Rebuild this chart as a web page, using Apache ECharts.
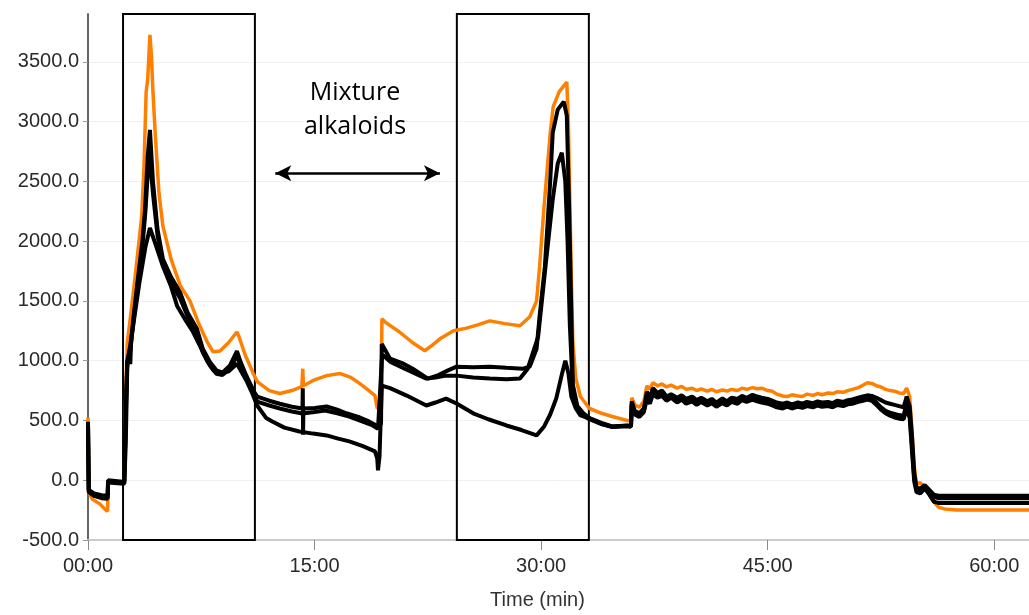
<!DOCTYPE html>
<html>
<head>
<meta charset="utf-8">
<script src="https://cdn.jsdelivr.net/npm/echarts@6/dist/echarts.min.js"></script>
<style>
  html, body { margin: 0; padding: 0; background: #fff; }
  #chart { width: 1029px; height: 615px; }
</style>
</head>
<body>
<div id="chart"></div>
<script>
// time in minutes, signal value
var orangeTrace = [
  [0, 525], [0.05, -100], [0.3, -160], [0.8, -200], [1.1, -240], [1.3, -260], [1.33, -10], [2.4, -10], [2.45, 0],
  [2.5, 740], [2.6, 1150], [2.75, 1300], [3.1, 1680], [3.55, 2200], [3.7, 2600], [3.85, 3250], [3.95, 3350], [4.1, 3725],
  [4.2, 3550], [4.3, 3250], [4.45, 2900], [4.7, 2400], [4.96, 2125], [5.5, 1850], [6.1, 1630], [6.75, 1500], [7.3, 1320],
  [7.88, 1160], [8.27, 1075], [8.74, 1080], [9.3, 1150], [9.86, 1240], [10.0, 1200], [10.4, 1050], [10.92, 900], [11.2, 825],
  [12.0, 750], [12.7, 725], [13.5, 750], [14.16, 783], [14.22, 933], [14.26, 790], [15.0, 840], [15.8, 875], [16.7, 892],
  [17.4, 860], [18.0, 808], [18.6, 750], [19.0, 708], [19.15, 600], [19.4, 620], [19.46, 1350], [19.7, 1320], [20.6, 1242],
  [21.5, 1150], [22.3, 1083], [22.8, 1130], [23.3, 1183], [24.2, 1250], [25.0, 1270], [25.8, 1300], [26.6, 1333],
  [27.6, 1310], [28.6, 1292], [29.25, 1367], [29.7, 1500], [29.9, 1790], [30.2, 2300], [30.6, 2900], [30.8, 3125],
  [31.2, 3250], [31.7, 3330], [31.8, 3000], [32.0, 1700], [32.1, 1150], [32.3, 850], [32.6, 700], [33.2, 600],
  [34.0, 560], [34.7, 533], [35.7, 500], [35.95, 495],
  [36.0, 690], [36.2, 630], [36.5, 610], [36.8, 660], [37.0, 790], [37.2, 760], [37.4, 815], [37.7, 790], [38.0, 805],
  [38.3, 780], [38.6, 795], [39.0, 770], [39.3, 785], [39.6, 760], [40.0, 770], [40.3, 750], [40.6, 765], [41.0, 745],
  [41.3, 760], [41.6, 740], [42.0, 755], [42.3, 745], [42.6, 760], [43.0, 750], [43.3, 770], [43.6, 760], [44.0, 775],
  [44.3, 765], [44.6, 770], [45.0, 750], [45.3, 745], [45.6, 720], [46.0, 705], [46.3, 700], [46.6, 715], [47.0, 705],
  [47.3, 700], [47.6, 720], [48.0, 710], [48.3, 725], [48.6, 715], [49.0, 730], [49.3, 725], [49.6, 740], [50.0, 735],
  [50.3, 750], [50.6, 760], [51.0, 775], [51.3, 795], [51.6, 815], [51.9, 810], [52.2, 790], [52.5, 780], [52.8, 760],
  [53.1, 750], [53.4, 745], [53.7, 730], [54.0, 725], [54.2, 770], [54.4, 700], [54.55, 420], [54.7, 120], [54.85, -30],
  [55.1, -20], [55.4, -60], [55.7, -90], [56.0, -180], [56.3, -225], [56.7, -240], [57.5, -250], [62.3, -250]
];

var blackTraceA = [
  [0, 490], [0.05, -80], [0.4, -110], [0.9, -125], [1.3, -130], [1.33, 0], [2.4, -15],
  [2.5, 600], [2.6, 1000], [2.78, 1100], [2.8, 970], [2.85, 1150], [3.0, 1350], [3.3, 1683], [3.6, 2000], [3.77, 2250],
  [3.95, 2700], [4.1, 2930], [4.3, 2500], [4.6, 2100], [4.96, 1850], [5.5, 1700], [6.1, 1570], [6.6, 1400], [7.2, 1270],
  [7.6, 1100], [8.07, 990], [8.5, 920], [8.9, 900], [9.4, 960], [9.86, 1080], [10.1, 990], [10.5, 870], [11.0, 740],
  [11.2, 700], [12.0, 665], [12.7, 640], [13.5, 615], [14.2, 600], [14.22, 770], [14.24, 380], [14.26, 600], [15.0, 605],
  [15.8, 617], [16.5, 590], [17.1, 560], [18.0, 525], [18.6, 492], [19.1, 458], [19.4, 470], [19.45, 1140], [20.0, 1017],
  [20.8, 980], [21.5, 933], [22.5, 850], [23.2, 880], [23.8, 917], [24.4, 950], [25.5, 945], [26.6, 950], [27.7, 940],
  [28.8, 933], [29.25, 950], [29.7, 1100], [29.9, 1375], [30.25, 1790], [30.6, 2500], [30.77, 2908], [31.1, 3100],
  [31.5, 3167], [31.7, 3050], [31.85, 2300], [32.0, 1400], [32.1, 800], [32.4, 620], [32.8, 560], [33.2, 520],
  [34.0, 480], [34.7, 450], [35.7, 458], [35.95, 455],
  [36.0, 660], [36.2, 580], [36.5, 560], [36.8, 600], [37.0, 740], [37.2, 690], [37.4, 770], [37.7, 730], [38.0, 750],
  [38.3, 700], [38.6, 720], [39.0, 690], [39.3, 710], [39.6, 680], [40.0, 700], [40.3, 670], [40.6, 690], [41.0, 660],
  [41.3, 680], [41.6, 650], [42.0, 685], [42.3, 660], [42.6, 690], [43.0, 680], [43.3, 705], [43.6, 690], [44.0, 715],
  [44.3, 700], [44.6, 690], [45.0, 680], [45.3, 665], [45.6, 650], [46.0, 640], [46.3, 650], [46.6, 635], [47.0, 650],
  [47.3, 640], [47.6, 655], [48.0, 645], [48.3, 660], [48.6, 650], [49.0, 655], [49.3, 645], [49.6, 665], [50.0, 655],
  [50.3, 670], [50.6, 675], [51.0, 690], [51.3, 700], [51.6, 710], [51.9, 705], [52.2, 690], [52.5, 670], [52.8, 650],
  [53.1, 640], [53.4, 630], [53.7, 620], [54.0, 610], [54.2, 700], [54.4, 620], [54.55, 380], [54.7, 60], [54.85, -60],
  [55.1, -70], [55.4, -40], [55.7, -80], [56.0, -120], [56.3, -130], [62.3, -130]
];

var blackTraceB = [
  [0, 480], [0.05, -90], [0.4, -120], [0.9, -135], [1.3, -140], [1.33, -10], [2.4, -20],
  [2.5, 550], [2.6, 980], [2.8, 1080], [3.0, 1320], [3.3, 1650], [3.6, 1950], [3.8, 2250], [3.95, 2550], [4.1, 2700],
  [4.3, 2400], [4.6, 2050], [4.96, 1800], [5.5, 1650], [6.1, 1520], [6.6, 1370], [7.2, 1230], [7.6, 1070], [8.07, 960],
  [8.5, 890], [8.9, 880], [9.4, 930], [9.86, 1040], [10.1, 960], [10.5, 850], [11.0, 720], [11.2, 658], [12.0, 625],
  [12.7, 600], [13.5, 575], [14.2, 558], [15.0, 570], [15.7, 583], [16.5, 560], [17.3, 533], [18.1, 495], [18.85, 458],
  [19.2, 430], [19.45, 1000], [19.5, 1050], [20.0, 992], [21.0, 930], [22.4, 850], [23.0, 860], [23.7, 875], [24.4, 875],
  [25.5, 860], [26.6, 850], [27.7, 845], [28.6, 850], [29.1, 930], [29.8, 1200], [30.3, 1800], [30.77, 2350],
  [31.1, 2650], [31.37, 2740], [31.6, 2500], [31.75, 2000], [31.9, 1300], [32.1, 750], [32.4, 600], [32.8, 540],
  [33.2, 510], [34.0, 470], [34.7, 445], [35.7, 452], [35.95, 450],
  [36.0, 640], [36.2, 560], [36.5, 540], [36.8, 580], [37.0, 700], [37.2, 660], [37.4, 740], [37.7, 700], [38.0, 720],
  [38.3, 680], [38.6, 700], [39.0, 665], [39.3, 690], [39.6, 655], [40.0, 675], [40.3, 645], [40.6, 670], [41.0, 640],
  [41.3, 660], [41.6, 630], [42.0, 660], [42.3, 640], [42.6, 670], [43.0, 655], [43.3, 685], [43.6, 670], [44.0, 690],
  [44.3, 675], [44.6, 665], [45.0, 655], [45.3, 640], [45.6, 625], [46.0, 615], [46.3, 630], [46.6, 615], [47.0, 630],
  [47.3, 620], [47.6, 635], [48.0, 625], [48.3, 640], [48.6, 630], [49.0, 635], [49.3, 625], [49.6, 645], [50.0, 635],
  [50.3, 650], [50.6, 655], [51.0, 670], [51.3, 680], [51.6, 690], [51.9, 680], [52.2, 650], [52.5, 610], [52.8, 580],
  [53.1, 565], [53.4, 555], [53.7, 545], [54.0, 540], [54.2, 650], [54.4, 560], [54.55, 300], [54.7, 20], [54.85, -80],
  [55.1, -90], [55.4, -50], [55.7, -100], [56.0, -140], [56.3, -150], [62.3, -150]
];

var blackTraceC = [
  [0, 470], [0.05, -100], [0.4, -130], [0.9, -150], [1.3, -155], [1.33, -20], [2.4, -30],
  [2.5, 300], [2.6, 950], [2.7, 1050], [3.0, 1300], [3.4, 1650], [3.8, 1950], [4.1, 2110], [4.4, 2000], [4.96, 1790],
  [5.5, 1620], [5.9, 1458], [6.5, 1330], [6.95, 1242], [7.5, 1100], [7.88, 1000], [8.3, 920], [8.74, 900], [9.3, 910],
  [9.86, 975], [10.1, 920], [10.5, 830], [10.9, 720], [11.2, 625], [11.8, 520], [12.2, 492], [13.0, 440], [14.0, 408],
  [14.9, 390], [15.8, 375], [16.5, 350], [17.3, 325], [18.2, 285], [19.0, 242], [19.15, 180], [19.2, 83], [19.3, 200],
  [19.45, 792], [20.0, 770], [21.1, 708], [22.4, 625], [23.0, 650], [23.7, 683], [24.4, 642], [25.5, 560], [26.5, 510],
  [27.7, 458], [28.7, 420], [29.7, 375], [30.2, 450], [30.6, 550], [31.0, 683], [31.4, 900], [31.6, 1000], [31.8, 900],
  [32.0, 700], [32.3, 600], [32.6, 542], [33.2, 517], [34.0, 470], [34.7, 450], [35.7, 455], [35.95, 450],
  [36.0, 630], [36.2, 550], [36.5, 530], [36.8, 570], [37.0, 680], [37.2, 640], [37.4, 720], [37.7, 690], [38.0, 705],
  [38.3, 665], [38.6, 690], [39.0, 650], [39.3, 675], [39.6, 640], [40.0, 660], [40.3, 630], [40.6, 655], [41.0, 625],
  [41.3, 645], [41.6, 615], [42.0, 645], [42.3, 625], [42.6, 655], [43.0, 640], [43.3, 670], [43.6, 655], [44.0, 675],
  [44.3, 660], [44.6, 650], [45.0, 640], [45.3, 625], [45.6, 610], [46.0, 600], [46.3, 615], [46.6, 600], [47.0, 615],
  [47.3, 605], [47.6, 620], [48.0, 610], [48.3, 625], [48.6, 615], [49.0, 620], [49.3, 610], [49.6, 630], [50.0, 620],
  [50.3, 635], [50.6, 640], [51.0, 655], [51.3, 665], [51.6, 675], [51.9, 665], [52.2, 630], [52.5, 590], [52.8, 560],
  [53.1, 540], [53.4, 525], [53.7, 515], [54.0, 510], [54.2, 600], [54.4, 520], [54.55, 250], [54.7, -10], [54.85, -100],
  [55.1, -110], [55.4, -70], [55.7, -120], [56.0, -180], [56.3, -190], [62.3, -190]
];

// boxed regions [start min, end min] and the double arrow span
var boxRanges = [[2.32, 11.05], [24.42, 33.16]];
var arrowSpan = [12.4, 23.3];
var arrowLevel = 2567;
var yMin = -500, yMax = 3900;

var chart = echarts.init(document.getElementById('chart'));

function lineSeries(name, data, color, width) {
  return {
    name: name,
    type: 'line',
    data: data,
    showSymbol: false,
    symbol: 'none',
    lineStyle: { color: color, width: width },
    itemStyle: { color: color }
  };
}

var seriesList = [
  lineSeries('orange', orangeTrace, '#ff7f00', 3.5),
  lineSeries('A', blackTraceA, '#000', 4),
  lineSeries('B', blackTraceB, '#000', 4),
  lineSeries('C', blackTraceC, '#000', 4)
];

seriesList[0].markArea = {
  silent: true,
  itemStyle: { color: 'rgba(0,0,0,0)', borderColor: '#000', borderWidth: 2 },
  data: boxRanges.map(function (r) {
    return [{ coord: [r[0], yMin] }, { coord: [r[1], yMax] }];
  })
};
seriesList[0].markLine = {
  silent: true,
  symbol: ['arrow', 'arrow'],
  symbolSize: [12, 16],
  label: { show: false },
  lineStyle: { color: '#000', width: 2.5, type: 'solid' },
  data: [[{ coord: [arrowSpan[0], arrowLevel] }, { coord: [arrowSpan[1], arrowLevel] }]]
};

var option = {
  backgroundColor: '#ffffff',
  animation: false,
  grid: { left: 88, right: 0, top: 14, bottom: 73, containLabel: false },
  xAxis: {
    type: 'value',
    min: 0,
    max: 62.3,
    interval: 15,
    name: 'Time (min)',
    nameLocation: 'middle',
    nameGap: 50,
    nameTextStyle: { fontFamily: 'Liberation Sans', fontSize: 20, color: '#333', padding: [0, 42, 0, 0] },
    axisLine: { onZero: false, lineStyle: { color: '#cccccc', width: 2 } },
    axisTick: { length: 10, lineStyle: { color: '#888' } },
    axisLabel: {
      showMaxLabel: false,
      margin: 16,
      fontFamily: 'Liberation Sans',
      fontSize: 20,
      color: '#2a2a2a',
      formatter: function (v) { return (v < 10 ? '0' : '') + v + ':00'; }
    },
    splitLine: { show: false }
  },
  yAxis: {
    type: 'value',
    min: yMin,
    max: yMax,
    interval: 500,
    axisLine: { show: true, lineStyle: { color: '#666', width: 2 } },
    axisTick: { show: true, length: 5, lineStyle: { color: '#999' } },
    axisLabel: {
      showMaxLabel: false,
      margin: 9,
      fontFamily: 'Liberation Sans',
      fontSize: 20,
      color: '#2a2a2a',
      formatter: function (v) { return v.toFixed(1); }
    },
    splitLine: { show: true, showMaxLine: false, showMinLine: false, lineStyle: { color: '#f0f0f0', width: 1 } }
  },
  graphic: [{
    type: 'text',
    x: 355,
    y: 76,
    z: 100,
    style: {
      text: 'Mixture\nalkaloids',
      align: 'center',
      verticalAlign: 'top',
      lineHeight: 34,
      fontFamily: 'Open Sans',
      fontSize: 25,
      fill: '#000',
      backgroundColor: '#fff'
    }
  }],
  series: seriesList
};

chart.setOption(option);
</script>
</body>
</html>
